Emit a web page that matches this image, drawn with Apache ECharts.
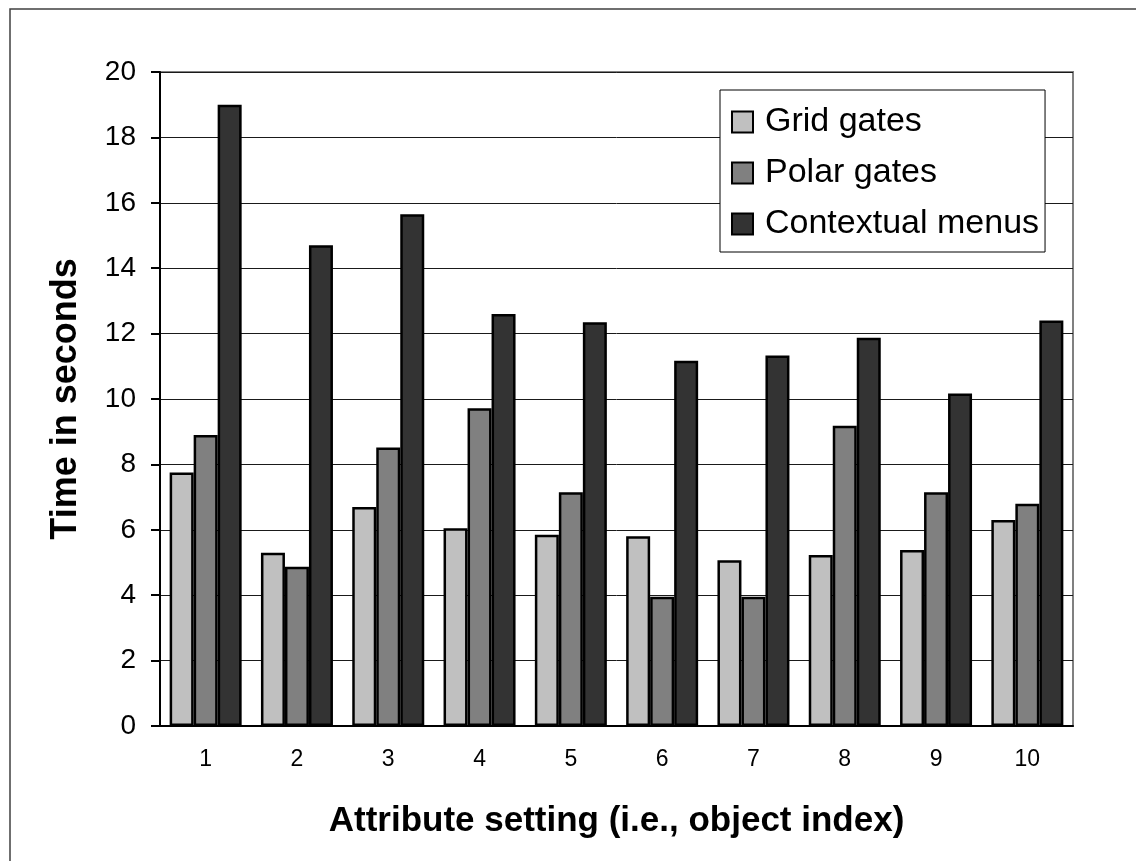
<!DOCTYPE html>
<html lang="en">
  <head>
    <meta charset="UTF-8" />
    <title>Time per attribute setting</title>
    <style>
      * {
        margin: 0;
        padding: 0;
      }
      body {
        background: #fff;
      }
      #main {
        width: 1136px;
        height: 861px;
      }
    </style>
  </head>

  <body>
    <div id="main"></div>
  </body>

  <script src="https://cdn.jsdelivr.net/npm/echarts@6/dist/echarts.min.js"></script>
  <script>
    // 数据
    const categories = ["1", "2", "3", "4", "5", "6", "7", "8", "9", "10"];
    const gridGates = [7.75, 5.3, 6.7, 6.05, 5.85, 5.8, 5.07, 5.23, 5.38, 6.3];
    const polarGates = [8.9, 4.87, 8.52, 9.72, 7.15, 3.95, 3.95, 9.18, 7.15, 6.8];
    const contextualMenus = [19.0, 14.7, 15.65, 12.6, 12.35, 11.17, 11.33, 11.87, 10.17, 12.4];
    const yTicks = { min: 0, max: 20, interval: 2 };

    const font = "Liberation Sans, Arial, sans-serif";

    var myChart = echarts.init(document.getElementById("main"));

    function bar(name, data, color) {
      return {
        name: name,
        type: "bar",
        data: data,
        barWidth: 24,
        barGap: "0%",
        barCategoryGap: "21%",
        itemStyle: {
          color: color,
          borderColor: "#000",
          borderWidth: 2.5,
        },
      };
    }

    let option = {
      backgroundColor: "#fff",
      animation: false,
      // 外框
      graphic: [
        {
          type: "rect",
          shape: { x: 10, y: 9, width: 1300, height: 1000 },
          style: { fill: null, stroke: "#404040", lineWidth: 1.5 },
          z: -1,
        },
      ],
      grid: {
        left: 160,
        top: 72,
        right: 63,
        bottom: 135,
        show: true,
        borderColor: "#808080",
        borderWidth: 2,
      },
      legend: {
        orient: "vertical",
        left: 720,
        top: 90,
        backgroundColor: "#fff",
        borderColor: "#000",
        borderWidth: 1,
        padding: [15, 6, 11, 11],
        icon: "rect",
        itemWidth: 21,
        itemHeight: 21,
        itemGap: 17,
        itemStyle: { borderColor: "#000", borderWidth: 2 },
        textStyle: {
          fontFamily: font,
          fontSize: 34,
          color: "#000",
          lineHeight: 30,
          padding: [0, 0, 0, 7],
        },
        data: ["Grid gates", "Polar gates", "Contextual menus"],
      },
      xAxis: {
        type: "category",
        data: categories,
        name: "Attribute setting (i.e., object index)",
        nameLocation: "middle",
        nameGap: 78,
        nameTextStyle: {
          fontFamily: font,
          fontSize: 35,
          fontWeight: "bold",
          color: "#000",
        },
        axisLine: { lineStyle: { color: "#000", width: 2 } },
        axisTick: { length: 8, lineStyle: { color: "#000", width: 2 } },
        axisLabel: {
          fontFamily: font,
          fontSize: 23,
          color: "#000",
          margin: 22,
        },
      },
      yAxis: {
        type: "value",
        min: yTicks.min,
        max: yTicks.max,
        interval: yTicks.interval,
        name: "Time in seconds",
        nameLocation: "middle",
        nameGap: 76,
        nameTextStyle: {
          fontFamily: font,
          fontSize: 36,
          fontWeight: "bold",
          color: "#000",
        },
        axisLine: { show: true, lineStyle: { color: "#000", width: 2 } },
        axisTick: { show: true, length: 9, lineStyle: { color: "#000", width: 2 } },
        axisLabel: {
          fontFamily: font,
          fontSize: 28,
          color: "#000",
          margin: 24,
        },
        splitLine: { lineStyle: { color: "#1a1a1a", width: 1 } },
      },
      series: [
        bar("Grid gates", gridGates, "#c0c0c0"),
        bar("Polar gates", polarGates, "#808080"),
        bar("Contextual menus", contextualMenus, "#333333"),
      ],
    };

    myChart.setOption(option);
  </script>
</html>
